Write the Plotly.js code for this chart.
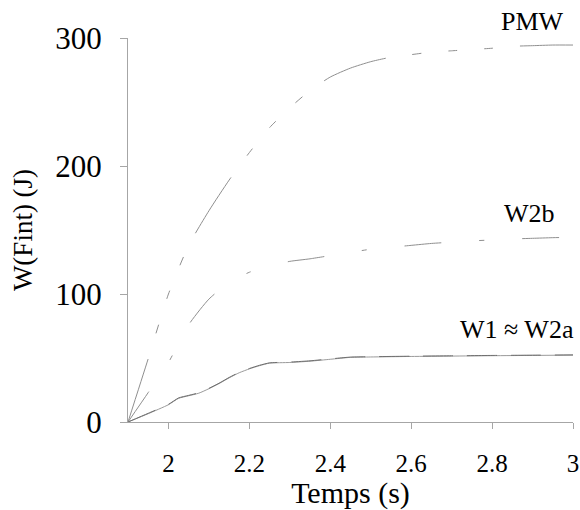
<!DOCTYPE html>
<html>
<head>
<meta charset="utf-8">
<script src="https://cdn.plot.ly/plotly-3.0.1.min.js"></script>
<style>html,body{margin:0;padding:0;background:#fff;}#chart{width:580px;height:510px;}</style>
</head>
<body>
<div id="chart"></div>
<script>
// Time grid (s) for PMW and W2b
var tCoarse = [1.9, 1.95, 2.0, 2.05, 2.1, 2.15, 2.2, 2.25, 2.3, 2.35, 2.4, 2.45, 2.5, 2.55, 2.6, 2.65, 2.7, 2.75, 2.8, 2.85, 2.9, 2.95, 3.0];
var pmw = [0, 49.5, 100, 138, 165, 189, 210.5, 230, 245.5, 259, 269.5, 276.5, 281.5, 285, 287, 289, 290, 291, 292, 293.5, 294, 294.5, 294.5];
var w2b = [0, 23, 46.5, 76, 96, 109, 117, 122, 125.5, 127.5, 130, 132.5, 135, 136.5, 138, 139.5, 140.5, 141.5, 142.2, 143, 143.5, 144, 144.3];
// Time grid (s) for W1 and W2a
var tFine = [1.9, 1.95, 2.0, 2.025, 2.05, 2.075, 2.1, 2.125, 2.15, 2.175, 2.2, 2.225, 2.25, 2.3, 2.35, 2.4, 2.45, 2.5, 2.6, 2.7, 2.8, 2.9, 3.0];
var w1  = [0, 6.5, 13.5, 18.5, 20.5, 22.5, 26, 30, 34.5, 38.5, 41.5, 44, 46, 46.5, 47.5, 49, 50.5, 50.8, 51.2, 51.5, 51.8, 52, 52.3];
var w2a = [0, 6.8, 13.8, 18.8, 20.8, 22.8, 26.3, 30.3, 34.8, 38.8, 41.8, 44.3, 46.2, 46.8, 47.8, 49.3, 50.7, 51, 51.4, 51.7, 52, 52.2, 52.4];
var labelNames = ["PMW", "W2b", "W1 \u2248 W2a"];
var labelX = [0.91, 0.903, 0.874];
var labelY = [1.044, 0.544, 0.240];

var lineCol = "#8f8f8f";
var serif = "'Times New Roman', 'Liberation Serif', Tinos, serif";

var traces = [
  {x: tCoarse, y: pmw, mode: "lines", name: "PMW", line: {color: lineCol, width: 1, shape: "spline", smoothing: 0.6, dash: "66px,27px,9px,27px,9px,27px,9px,27px"}},
  {x: tCoarse, y: w2b, mode: "lines", name: "W2b", line: {color: lineCol, width: 1, shape: "spline", smoothing: 0.6, dash: "37px,38px,5px,38px"}},
  {x: tFine, y: w1, mode: "lines", name: "W1", line: {color: "#9a9a9a", width: 1, shape: "spline", smoothing: 0.5}},
  {x: tFine, y: w2a, mode: "lines", name: "W2a", line: {color: "#707070", width: 1, shape: "spline", smoothing: 0.5, dash: "30px,14px"}}
];

var annotations = labelNames.map(function(s, i) {
  return {x: labelX[i], y: labelY[i], xref: "paper", yref: "paper", text: s, showarrow: false,
          xanchor: "center", yanchor: "middle", font: {family: serif, size: 26, color: "#000"}};
});

var layout = {
  width: 580, height: 510,
  margin: {l: 128, r: 7, t: 38, b: 88},
  paper_bgcolor: "#fff", plot_bgcolor: "#fff",
  showlegend: false,
  font: {family: serif, color: "#000"},
  xaxis: {
    range: [1.9, 3], tickvals: [2, 2.2, 2.4, 2.6, 2.8, 3], ticktext: ["2", "2.2", "2.4", "2.6", "2.8", "3"],
    showgrid: false, zeroline: false, showline: true, linecolor: "#a6a6a6", linewidth: 1,
    ticks: "outside", ticklen: 6, tickcolor: "#a6a6a6", tickfont: {family: serif, size: 25, color: "#000"},
    ticklabelstandoff: 13,
    title: {text: "Temps (s)", font: {family: serif, size: 30, color: "#000"}, standoff: 3}
  },
  yaxis: {
    range: [0, 300], tickvals: [0, 100, 200, 300],
    showgrid: false, zeroline: false, showline: true, linecolor: "#a6a6a6", linewidth: 1,
    ticks: "outside", ticklen: 7, tickcolor: "#a6a6a6", tickfont: {family: serif, size: 31, color: "#000"},
    ticklabelstandoff: 12,
    title: {text: "W(Fint) (J)", font: {family: serif, size: 27, color: "#000"}, standoff: 14}
  },
  annotations: annotations
};

Plotly.newPlot("chart", traces, layout, {displayModeBar: false, staticPlot: true});
</script>
</body>
</html>
